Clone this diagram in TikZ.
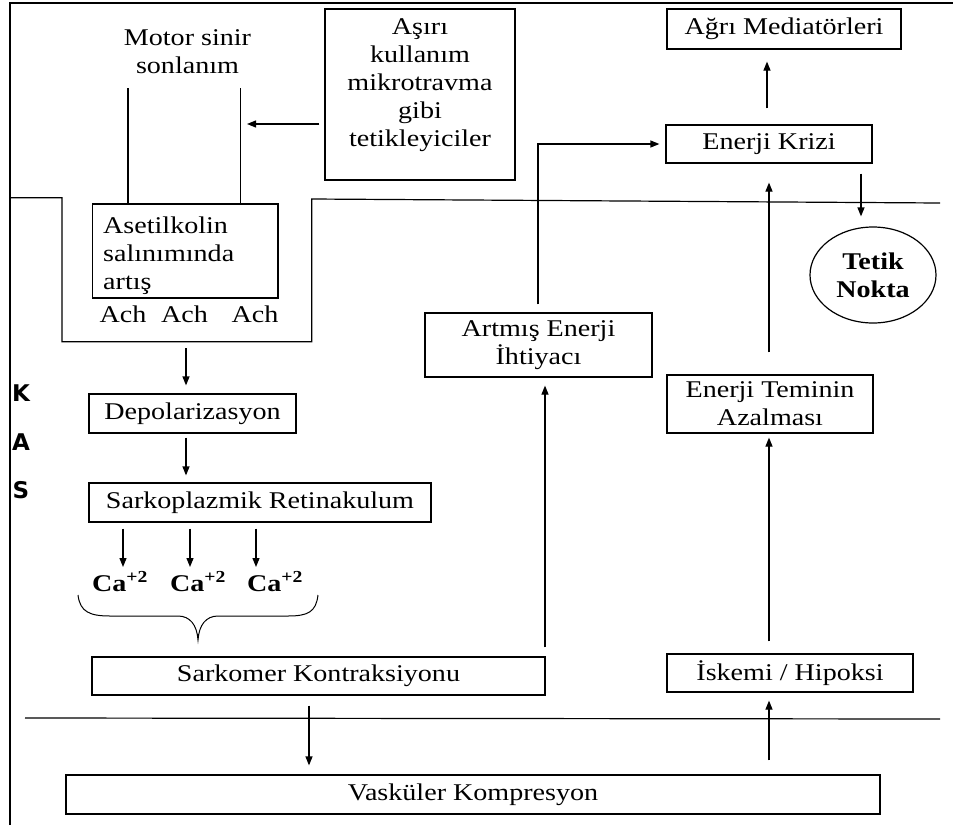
\documentclass[tikz,border=0pt]{standalone}
\usepackage{fontspec}
\setmainfont{Liberation Serif}[FakeStretch=1.17]
\newfontfamily\kasfont{DejaVu Sans}
\usetikzlibrary{arrows.meta,shapes.geometric}
\begin{document}
\begin{tikzpicture}[x=1pt,y=-1pt,
  font=\fontsize{24}{28}\selectfont,
  box/.style={draw, line width=1.2pt, inner sep=0pt, align=center},
  txt/.style={inner sep=0pt, align=center},
  arr/.style={-{Triangle[length=9pt,width=7pt]}, line width=1.2pt},
  ln/.style={line width=1.2pt},
  kas/.style={inner sep=0pt, font={\kasfont\bfseries\fontsize{23}{28}\selectfont}}]
\useasboundingbox (0,0) rectangle (953,825);
% frame
\draw[ln] (10,825) -- (10,3) -- (953,3);
% membranes
\draw[ln] (10,197.7) -- (62,197.7) -- (62,341.7) -- (311.7,341.7) -- (311.7,199) -- (940,203);
\draw[ln] (25,718) -- (940,719);
% KAS
\node[kas] (k) at (21,393.5) {K};
\node[kas] (a) at (21,442.5) {A};
\node[kas] (s) at (21,490) {S};
% nodes
\node[txt] (motor) at (187.5,52) {Motor sinir\\sonlanım};
\node[box, minimum width=190, minimum height=171] (asiri) at (420,94.5) {};
\node[txt] (asiritxt) at (420,85) {Aşırı\\kullanım\\mikrotravma\\gibi\\tetikleyiciler};
\node[box, minimum width=185.3, minimum height=94] (ach) at (185.3,251) {};
\node[txt, anchor=west, align=left] (achtxt) at (103,256) {Asetilkolin\\salınımında\\artış};
\node[txt] (ach1) at (123,314) {Ach};
\node[txt] (ach2) at (184.5,314) {Ach};
\node[txt] (ach3) at (255,314) {Ach};
\node[box, minimum width=207, minimum height=39] (dep) at (192.5,413.5) {Depolarizasyon};
\node[box, minimum width=342, minimum height=39] (sark) at (260,502.5) {Sarkoplazmik Retinakulum};
\node[txt] (ca1) at (120,582) {\textbf{Ca\textsuperscript{+2}}};
\node[txt] (ca2) at (198,582) {\textbf{Ca\textsuperscript{+2}}};
\node[txt] (ca3) at (275,582) {\textbf{Ca\textsuperscript{+2}}};
\node[box, minimum width=453, minimum height=38] (sarkomer) at (318.5,676) {Sarkomer Kontraksiyonu};
\node[box, minimum width=814, minimum height=39] (vask) at (473,794.5) {Vasküler Kompresyon};
\node[box, minimum width=246, minimum height=38] (isk) at (790,673) {İskemi / Hipoksi};
\node[box, minimum width=206, minimum height=58] (temin) at (770,404) {Enerji Teminin\\Azalması};
\node[box, minimum width=206, minimum height=38] (kriz) at (769,144) {Enerji Krizi};
\node[box, minimum width=234, minimum height=40] (agri) at (784,29) {Ağrı Mediatörleri};
\node[draw, ellipse, line width=1.2pt, minimum width=126, minimum height=96, inner sep=0pt, align=center] (tetik) at (873,275) {\textbf{Tetik}\\\textbf{Nokta}};
\node[box, minimum width=227, minimum height=64] (artmis) at (538.5,345) {Artmış Enerji\\İhtiyacı};
% helper coordinates
\coordinate (n1) at (128,88);
\coordinate (n2) at (240.7,88);
\coordinate (trig) at (247,124);
\coordinate (memb) at (186,348);
\coordinate (c1) at (123,567);
\coordinate (c2) at (190,567);
\coordinate (c3) at (256,567);
\coordinate (vx) at (309,0);
\coordinate (rx) at (769,0);
\coordinate (kx) at (767,0);
\coordinate (tx) at (861,0);
\coordinate (ax) at (545,0);
\coordinate (bx) at (538,0);
% nerve ending
\draw[ln] (n1) -- (n1 |- ach.north);
\draw[ln] (n2) -- (n2 |- ach.north);
% connectors
\draw[arr, shorten <=5pt] (asiri.west |- trig) -- (trig);
\draw[arr, shorten >=8pt] (memb) -- (memb |- dep.north);
\draw[arr, shorten <=4pt, shorten >=7pt] (dep.south -| memb) -- (sark.north -| memb);
\draw[arr, shorten <=6pt] (sark.south -| c1) -- (c1);
\draw[arr, shorten <=6pt] (sark.south -| c2) -- (c2);
\draw[arr, shorten <=6pt] (sark.south -| c3) -- (c3);
% brace
\draw[line width=1pt] (78,595) .. controls (80,612) and (90,616) .. (110,616) -- (178,616)
  .. controls (190,616) and (197,625) .. (198,640)
  .. controls (199,625) and (206,616) .. (218,616) -- (288,616)
  .. controls (308,616) and (316,612) .. (318,595);
\draw[arr, shorten <=10pt, shorten >=9pt] (sarkomer.south -| vx) -- (vask.north -| vx);
\draw[arr, shorten <=14pt, shorten >=8pt] (vask.north -| rx) -- (isk.south -| rx);
\draw[arr, shorten <=12pt, shorten >=4pt] (isk.north -| rx) -- (temin.south -| rx);
\draw[arr, shorten <=22pt, shorten >=19pt] (temin.north -| rx) -- (kriz.south -| rx);
\draw[arr, shorten <=16pt, shorten >=12pt] (kriz.north -| kx) -- (agri.south -| kx);
\draw[arr, shorten <=10pt, shorten >=10pt] (kriz.south -| tx) -- (tetik.north -| tx);
\draw[arr, shorten <=9pt, shorten >=8pt] (sarkomer.north -| ax) -- (artmis.south -| ax);
\draw[arr, shorten <=8pt, shorten >=6pt] (artmis.north -| bx) -- (bx |- kriz.west) -- (kriz.west);
\end{tikzpicture}
\end{document}
